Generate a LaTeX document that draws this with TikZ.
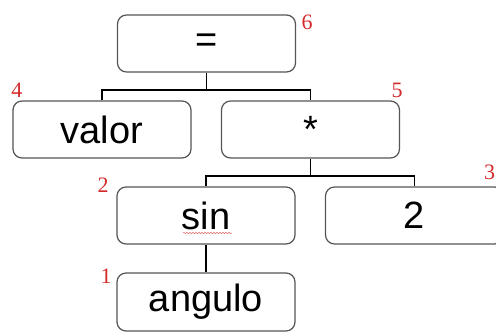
\documentclass[tikz,border=0pt]{standalone}
\usepackage{fontspec}
\setmainfont{Liberation Sans}
\newfontfamily\numfont{Liberation Serif}
\usetikzlibrary{decorations.pathmorphing}
\definecolor{boxline}{HTML}{555555}
\definecolor{numred}{HTML}{D42A2A}
\begin{document}
\begin{tikzpicture}[x=1pt,y=-1pt,
  treebox/.style={draw=boxline, line width=1.2pt, rounded corners=9pt, minimum width=178pt, minimum height=57pt, inner sep=0pt, font=\fontsize{38}{40}\selectfont},
  conn/.style={draw=black, line width=1.6pt},
  numlabel/.style={text=numred, font=\numfont\fontsize{22}{24}\selectfont, inner sep=0pt}]
\useasboundingbox (0,0) rectangle (496,332);
\node[treebox] (eq) at (206.5,43.5) {=};
\node[treebox] (valor) at (102,129.5) {valor};
\node[treebox] (star) at (310.5,129.5) {*};
\node[treebox] (sin) at (206,215.5) {sin};
\node[treebox] (two) at (414.5,215.5) {2};
\node[treebox, minimum height=58pt] (ang) at (206,302) {angulo};
\coordinate (j1) at (206.5,90);
\coordinate (j2) at (310.5,176);
\draw[conn] (eq.south) -- (j1);
\draw[conn] (valor.north) |- (j1) -| (star.north);
\draw[conn] (star.south) -- (j2);
\draw[conn] (sin.north) |- (j2) -| (two.north);
\draw[conn] (sin.south) -- (ang.north);
\node[numlabel] (n6) at (307,22) {6};
\node[numlabel] (n4) at (17,90) {4};
\node[numlabel] (n5) at (397,90) {5};
\node[numlabel] (n3) at (489.5,172) {3};
\node[numlabel] (n2) at (103,185) {2};
\node[numlabel] (n1) at (106,276) {1};
\coordinate (w1) at (183,233);
\coordinate (w2) at (232,233);
\draw[numred!70, line width=0.5pt, decorate, decoration={snake, amplitude=0.7pt, segment length=3pt}] (w1) -- (w2);
\end{tikzpicture}
\end{document}
